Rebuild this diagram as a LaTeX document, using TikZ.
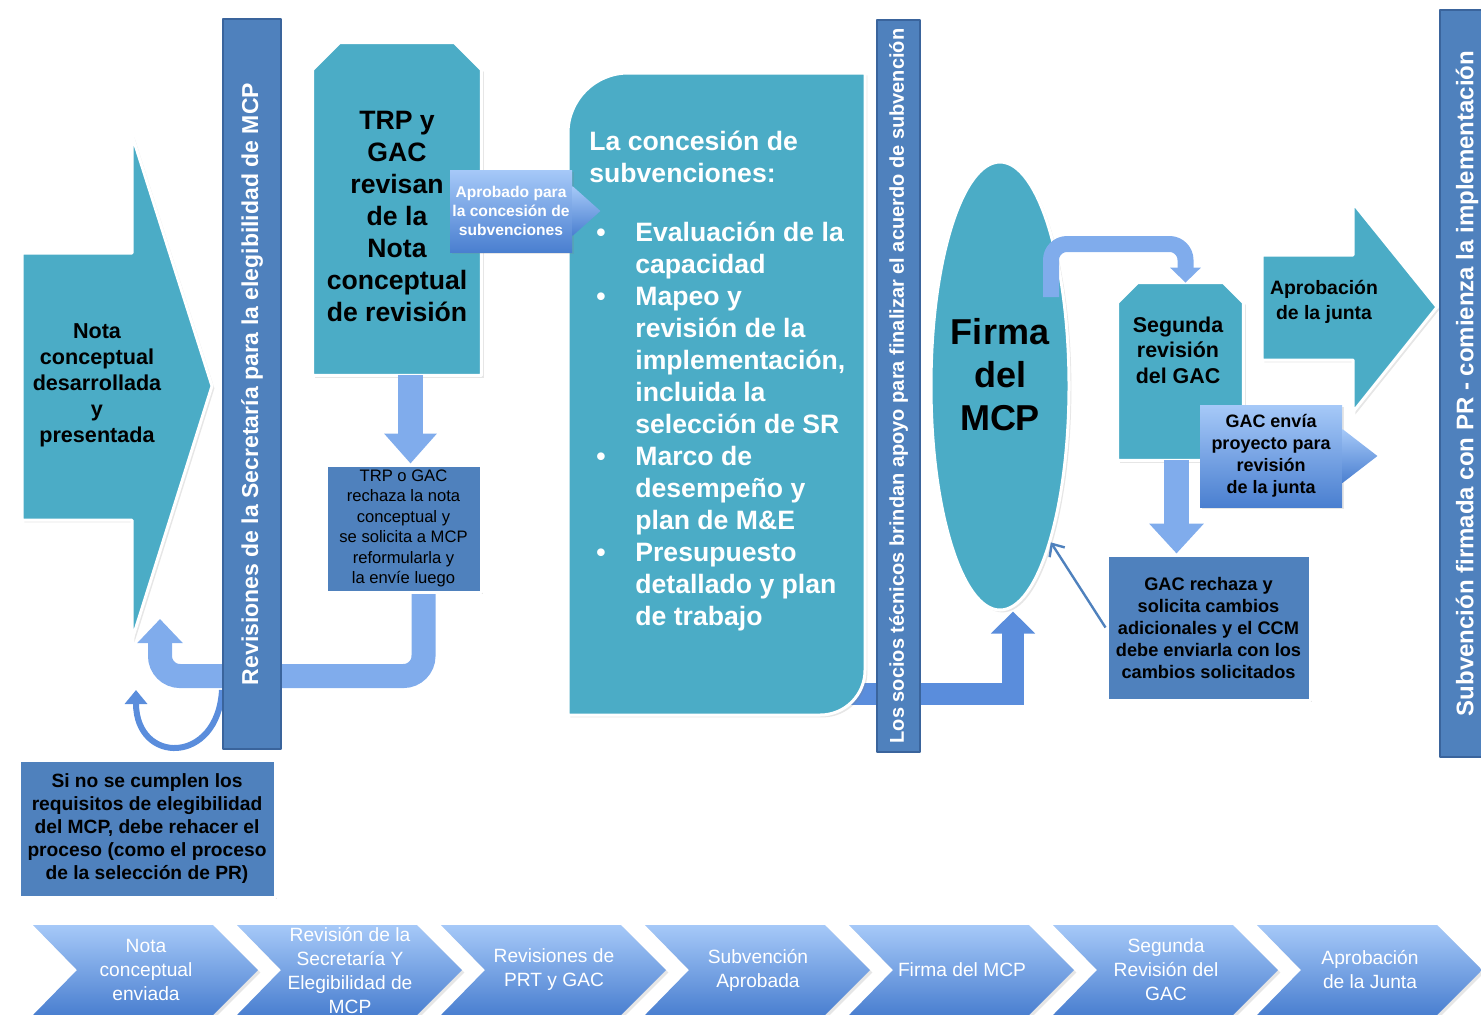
\documentclass[tikz,border=0pt]{standalone}
\usepackage{fontspec}
\setmainfont{Liberation Sans}
\usetikzlibrary{shapes.geometric,arrows.meta,shadows,backgrounds}
\definecolor{tealbox}{HTML}{4BACC6}
\definecolor{barblue}{HTML}{4F81BD}
\definecolor{barline}{HTML}{3A649C}
\definecolor{arrlight}{HTML}{A6C9F8}
\definecolor{arrdark}{HTML}{4A7FD0}
\definecolor{arrmid}{HTML}{80ACEC}
\definecolor{arrdeep}{HTML}{5A8DDC}
\newcommand{\setfs}[2]{\fontsize{#1}{#2}\selectfont}
\newcommand{\bul}{\makebox[23pt][l]{\hspace*{3.5pt}\textbullet}}
\newcommand{\ind}{\makebox[23pt]{}}
\begin{document}
\begin{tikzpicture}[x=.5pt,y=-.5pt,line join=round,
    softshadow/.style={drop shadow={opacity=.2,shadow xshift=1.2pt,shadow yshift=-1.2pt}},
    tealshape/.style={fill=tealbox,draw=white,line width=1.5pt,softshadow},
    bar/.style={rectangle,fill=barblue,draw=barline,line width=1pt,inner sep=0pt,text=white,font=\bfseries},
    darkbox/.style={rectangle,fill=barblue,draw=white,line width=1.5pt,softshadow,inner sep=0pt,align=center},
    gradbox/.style={rectangle,top color=arrlight,bottom color=arrdark,draw=none,inner sep=0pt,align=center,softshadow},
    frame/.style={rectangle,inner sep=0pt},
    blockarrow/.style={draw=arrmid,line width=12.5pt,-{Triangle[width=25.5pt,length=15pt]}},
    chevron/.style={top color=arrlight,bottom color=arrdark,softshadow},
    steptext/.style={text=white,align=center,font=\setfs{9.6}{12}}]
  \useasboundingbox (0,0) rectangle (1481,1014);

  \path[tealshape] (22,253) -- (132,253) -- (132,135) -- (212,386) -- (132,640) -- (132,520) -- (22,520) -- cycle;
  \node[font=\bfseries\setfs{10.8}{13},align=center] (nota) at (97,385) {Nota\\conceptual\\desarrollada\\y\\presentada};
  \node[bar,minimum width=29pt,minimum height=365pt] (bar1) at (252,384)
    {\rotatebox{90}{\setfs{11.5}{12}Revisiones de la Secretaría para la elegibilidad de MCP}};

  \node[frame,minimum width=84pt,minimum height=166pt] (trp) at (397,209) {};
  \path[tealshape] (trp.south west) -- ([yshift=-13.5pt]trp.north west) -- ([xshift=13.5pt]trp.north west)
    -- ([xshift=-13.5pt]trp.north east) -- ([yshift=-13.5pt]trp.north east) -- (trp.south east) -- cycle;
  \node[font=\bfseries\setfs{13.3}{16},align=center] (trptxt) at (397,216) {TRP y\\GAC\\revisan\\de la\\Nota\\conceptual\\de revisión};
  \node[darkbox,minimum width=77.5pt,minimum height=63.5pt,font=\setfs{8.3}{10.2}] (rej1) at (403.5,528.5)
    {TRP o GAC\\rechaza la nota\\conceptual y\\se solicita a MCP\\reformularla y\\la envíe luego};
  \coordinate (a1) at ([xshift=3.5pt]rej1.north);
  \draw[blockarrow] (a1 |- trp.south) -- (a1);

  \node[darkbox,minimum width=128pt,minimum height=68.5pt,font=\bfseries\setfs{9.6}{11.5}] (rule) at (147,828.5)
    {Si no se cumplen los\\requisitos de elegibilidad\\del MCP, debe rehacer el\\proceso (como el proceso\\de la selección de PR)};

  \path[tealshape] (568,715) -- (568,133) .. controls (568,100) and (595,73) .. (628,73) -- (865,73) -- (865,670) .. controls (865,695) and (845,715) .. (820,715) -- cycle;
  \node[anchor=north west,inner sep=0pt,align=left,text=white,font=\bfseries\setfs{13.3}{16}] (granttxt) at (589,131)
    {La concesión de\\subvenciones:\\[13.5pt]
     \bul Evaluación de la\\\ind capacidad\\
     \bul Mapeo y\\\ind revisión de la\\\ind implementación,\\\ind incluida la\\\ind selección de SR\\
     \bul Marco de\\\ind desempeño y\\\ind plan de M\&E\\
     \bul Presupuesto\\\ind detallado y plan\\\ind de trabajo};

  \node[gradbox,minimum width=61pt,minimum height=41pt,text=white,font=\bfseries\setfs{7.8}{9.5}] (apr) at (511,211)
    {Aprobado para\\la concesión de\\subvenciones};
  \path[top color=arrlight,bottom color=arrdark] ([yshift=12.5pt]apr.east) -- ([xshift=14pt]apr.east) -- ([yshift=-12.5pt]apr.east) -- cycle;

  \node[bar,minimum width=21.5pt,minimum height=366pt] (bar2) at (898.5,386)
    {\rotatebox{90}{\setfs{10}{11}Los socios técnicos brindan apoyo para finalizar el acuerdo de subvención}};

  \node[ellipse,tealshape,minimum width=69pt,minimum height=224pt,inner sep=0pt] (firma) at (1000,386) {};
  \node[font=\bfseries\setfs{18}{21.5},align=center] (firmatxt) at (1000,375) {Firma\\del\\MCP};

  \node[frame,minimum width=62.5pt,minimum height=88.5pt] (seg) at (1180.5,371.5) {};
  \path[tealshape] (seg.south west) -- ([yshift=-10pt]seg.north west) -- ([xshift=10pt]seg.north west)
    -- ([xshift=-10pt]seg.north east) -- ([yshift=-10pt]seg.north east) -- (seg.south east) -- cycle;
  \node[font=\bfseries\setfs{10.7}{12.7},align=center] (segtxt) at (1178,350) {Segunda\\revisión\\del GAC};
  \coordinate (fs) at (1051,297);
  \draw[blockarrow,line width=8pt,rounded corners=8pt,-{Triangle[width=15pt,length=7.5pt]}] (fs) -- (fs |- 0,244) -| ([xshift=2.5pt]seg.north);

  \path[tealshape] (1262,255) -- (1353,255) -- (1353,203) -- (1437,307) -- (1353,412) -- (1353,360) -- (1262,360) -- cycle;
  \node[font=\bfseries\setfs{9.7}{12.5},align=center] (boardtxt) at (1324,302) {Aprobación\\de la junta};

  \node[gradbox,minimum width=71pt,minimum height=51pt,font=\bfseries\setfs{9}{11}] (send) at (1271,456)
    {GAC envía\\proyecto para\\revisión\\de la junta};
  \path[top color=arrlight,bottom color=arrdark] ([yshift=13.5pt]send.east) -- ([xshift=17.5pt]send.east) -- ([yshift=-13.5pt]send.east) -- cycle;

  \node[darkbox,minimum width=101.5pt,minimum height=72.5pt,font=\bfseries\setfs{9.1}{11}] (rej2) at (1208.5,627.5)
    {GAC rechaza y\\solicita cambios\\adicionales y el CCM\\debe enviarla con los\\cambios solicitados};
  \coordinate (a6) at ([xshift=-2pt]seg.south);
  \draw[blockarrow,-{Triangle[width=26.5pt,length=15pt]}] (a6) -- (a6 |- rej2.north);
  \draw[barblue,line width=1.2pt,-{Straight Barb[length=5pt,width=9pt]}] (rej2.west) -- (firma.-72);

  \node[bar,minimum width=27pt,minimum height=373.5pt] (bar3) at (1467,383.5)
    {\rotatebox{90}{\setfs{12}{13}Subvención firmada con PR - comienza la implementación}};

  \foreach \i/\txt in {0/{Nota\\conceptual\\enviada},1/{Revisión de la\\Secretaría Y\\Elegibilidad de\\MCP},
      2/{Revisiones de\\PRT y GAC},3/{Subvención\\Aprobada},4/{Firma del MCP},
      5/{Segunda\\Revisión del\\GAC},6/{Aprobación\\de la Junta}}{
    \pgfmathsetmacro\xo{33+204*\i}
    \path[chevron] (\xo,925) -- ++(180,0) -- ++(45,45) -- ++(-45,45) -- ++(-180,0) -- ++(44,-45) -- cycle;
    \node[steptext] (step\i) at (\xo+113,970) {\txt};
  }

  \begin{pgfonlayer}{background}
    \coordinate (back) at (160,619);
    \draw[blockarrow,line width=12pt,rounded corners=10pt,-{Triangle[width=22pt,length=12pt]}] ([xshift=10pt]rej1.south) |- (back |- 0,676) -- (back);
    \coordinate (ls) at (bar1.west |- 0,690);
    \coordinate (le) at (136,690);
    \draw[blockarrow,draw=arrdeep,line width=3pt,-{Triangle[width=11pt,length=7pt]}] (ls) .. controls (218,765) and (136,765) .. (le);
    \coordinate (ts) at (850,694);
    \draw[blockarrow,draw=arrdeep,line width=11pt,line join=miter,-{Triangle[width=21.5pt,length=11pt]}] (ts) -| ([xshift=6.5pt]firma.south);
  \end{pgfonlayer}
\end{tikzpicture}
\end{document}
